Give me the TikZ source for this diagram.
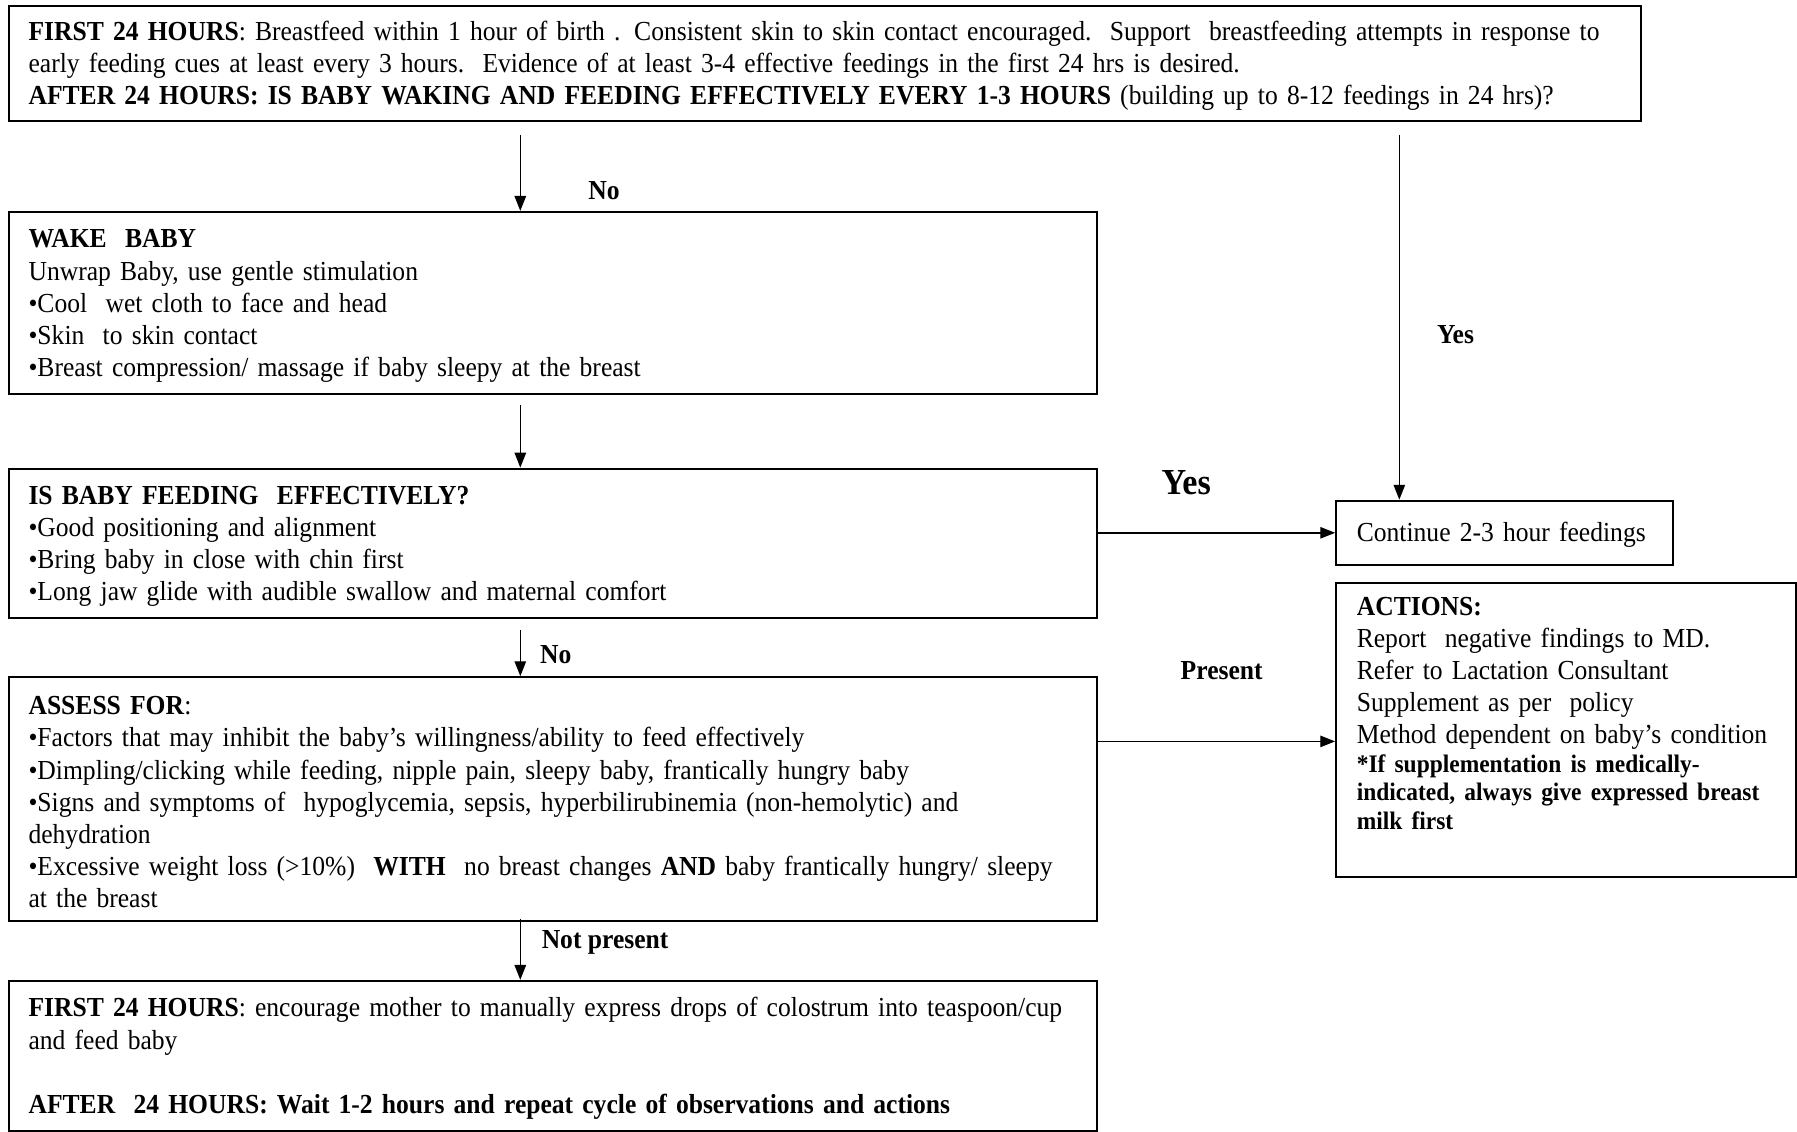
\documentclass[tikz,border=0pt]{standalone}
\usepackage{fontspec}
\setmainfont{Liberation Serif}[FakeStretch=0.93]
\usetikzlibrary{arrows.meta,calc}
\begin{document}
\begin{tikzpicture}[x=0.5pt,y=-0.5pt,
 box/.style={draw, line width=0.9pt, anchor=north west, inner xsep=8.5pt, inner ysep=0pt, align=left, font=\fontsize{12}{14}\selectfont, execute at begin node={\hyphenpenalty=10000 \exhyphenpenalty=10000 }},
 padbox/.style={box, execute at begin node={\hyphenpenalty=10000 \exhyphenpenalty=10000 \rule{0pt}{10.5pt}}},
 arr/.style={line width=0.6pt, -{Triangle[length=6.5pt,width=5pt]}},
 lbl/.style={font=\fontsize{12}{14}\selectfont\bfseries, inner sep=0pt}]
\useasboundingbox (0,0) rectangle (1568,987);

\node[padbox, text width=695pt, minimum height=50.5pt] (top) at (7,4) {\textbf{FIRST 24 HOURS}: Breastfeed within 1 hour of birth . Consistent skin to skin contact encouraged.\ \ Support\ \ breastfeeding attempts in response to\\
early feeding cues at least every 3 hours.\ \ Evidence of at least 3-4 effective feedings in the first 24 hrs is desired.\\
\textbf{AFTER 24 HOURS: IS BABY WAKING AND FEEDING EFFECTIVELY EVERY 1-3 HOURS} (building up to 8-12 feedings in 24 hrs)?};

\node[padbox, text width=457.5pt, minimum height=79.5pt] (wake) at (7,184) {\textbf{WAKE\ \ BABY}\\
Unwrap Baby, use gentle stimulation\\
•Cool\ \ wet cloth to face and head\\
•Skin\ \ to skin contact\\
•Breast compression/ massage if baby sleepy at the breast};

\node[padbox, text width=457.5pt, minimum height=65pt] (feed) at (7,408) {\textbf{IS BABY FEEDING\ \ EFFECTIVELY?}\\
•Good positioning and alignment\\
•Bring baby in close with chin first\\
•Long jaw glide with audible swallow and maternal comfort};

\node[padbox, text width=457.5pt, minimum height=106.5pt] (assess) at (7,590) {\textbf{ASSESS FOR}:\\
•Factors that may inhibit the baby’s willingness/ability to feed effectively\\
•Dimpling/clicking while feeding, nipple pain, sleepy baby, frantically hungry baby\\
•Signs and symptoms of\ \ hypoglycemia, sepsis, hyperbilirubinemia (non-hemolytic) and\\
dehydration\\
•Excessive weight loss (>10\%)\ \ \textbf{WITH}\ \ no breast changes \textbf{AND} baby frantically hungry/ sleepy\\
at the breast};

\node[padbox, text width=457.5pt, minimum height=65.5pt] (final) at (7,855) {\textbf{FIRST 24 HOURS}: encourage mother to manually express drops of colostrum into teaspoon/cup\\
and feed baby\\[14pt]
\textbf{AFTER\ \ 24 HOURS: Wait 1-2 hours and repeat cycle of observations and actions}};

\node[padbox, inner xsep=9pt, text width=129pt, minimum height=28pt] (cont) at (1165,436) {Continue 2-3 hour feedings};

\node[box, inner xsep=9pt, text width=182.5pt, minimum height=128pt] (actions) at (1165,508) {\textbf{ACTIONS:}\\
Report\ \ negative findings to MD.\\
Refer to Lactation Consultant\\
Supplement as per\ \ policy\\
Method dependent on baby’s condition\par
{\fontsize{11}{12.5}\selectfont\bfseries *If supplementation is medically-\\
indicated, always give expressed breast\\
milk first\\[2pt] \mbox{}\par}};

\node[lbl] (no1) at (527,166) {No};
\node[lbl] (yes1) at (1270,292) {Yes};
\node[lbl, font=\fontsize{16}{18}\selectfont\bfseries] (yes2) at (1035,421) {Yes};
\node[lbl] (no2) at (485,571) {No};
\node[lbl] (pres) at (1066,585) {Present};
\node[lbl] (npres) at (528,822) {Not present};

\draw[arr] ($(top.south west)+(447,11)$) -- ($(wake.north west)+(447,0)$);
\draw[arr] ($(top.south west)+(1214,11)$) -- ($(cont.north west)+(56,0)$);
\draw[arr] ($(wake.south west)+(447,9)$) -- ($(feed.north west)+(447,0)$);
\draw[arr] (feed.east |- cont.west) -- (cont.west);
\draw[arr] ($(feed.south west)+(447,10)$) -- ($(assess.north west)+(447,0)$);
\coordinate (pa) at ($(actions.west)+(0,10)$);
\draw[arr] (assess.east |- pa) -- (pa);
\draw[arr] ($(assess.south west)+(447,-3)$) -- ($(final.north west)+(447,0)$);
\end{tikzpicture}
\end{document}
